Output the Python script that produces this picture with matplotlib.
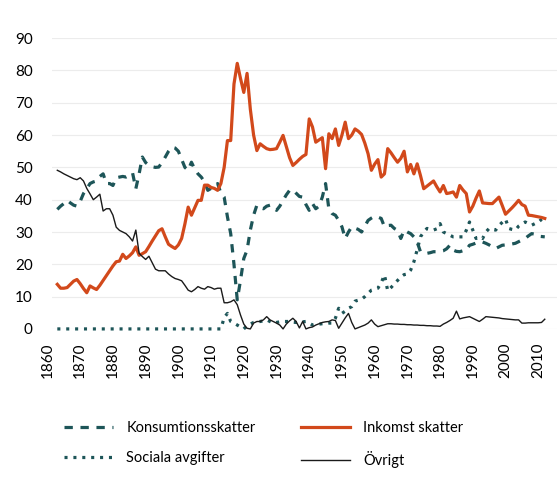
import matplotlib
matplotlib.use('Agg')
import matplotlib.pyplot as plt
import numpy as np

plt.rcParams['font.family'] = ['Lato', 'DejaVu Sans']
plt.rcParams['lines.scale_dashes'] = False

# data: share of total tax revenue (%), 1863-2012
years = list(range(1863, 2013))

inkomst = [
    13.8, 12.6, 12.6, 12.8, 13.8, 14.8, 15.3, 14.0, 12.5, 11.2,
    13.3, 12.7, 12.2, 13.5, 15.0, 16.5, 18.0, 19.5, 20.8, 21.0,
    23.1, 21.8, 22.6, 23.6, 25.4, 22.8, 23.3, 23.9, 25.5,
    27.2, 28.8, 30.4, 31.0, 28.5, 26.2, 25.5, 24.9, 26.0, 28.0,
    32.5, 37.7, 35.2, 37.5, 39.8, 39.8, 44.5, 44.5, 43.8, 43.5,
    42.9, 45.0, 50.0, 58.3, 58.3, 75.8, 82.2, 77.5, 73.2, 79.1,
    68.0, 60.0, 55.2, 57.3, 56.5, 55.8, 55.5, 55.6, 55.8, 57.8,
    59.9, 56.5, 53.0, 50.6, 51.5, 52.5, 53.4, 54.0, 65.0, 62.5,
    57.8, 58.5, 59.2, 49.6, 60.4, 58.9, 61.9, 56.8, 60.0,
    64.0, 58.9, 60.0, 61.9, 61.2, 60.2, 57.5, 54.2, 49.1, 51.0,
    52.4, 47.0, 48.0, 55.8, 54.5, 53.0, 51.6, 52.8, 55.0, 48.6,
    50.9, 48.0, 51.1, 47.5, 43.4, 44.2, 45.0, 45.8, 44.0, 42.4,
    44.4, 41.9, 42.1, 42.4, 40.8, 44.4, 43.0, 41.9, 36.2,
    38.0, 40.5, 42.7, 39.0, 38.9, 38.8, 38.8, 39.8, 40.8, 38.2,
    35.5, 36.5, 37.5, 38.6, 39.8, 38.5, 38.0, 35.2, 35.1, 34.9,
    34.7, 34.5, 34.2]

konsumtion = [
    37.0, 38.0, 38.8, 39.8, 39.0, 38.3, 38.0, 39.5, 41.9, 43.4,
    45.0, 45.5, 45.8, 47.2, 48.0, 45.0, 45.0, 44.4, 46.8, 47.0,
    47.2, 47.0, 47.5, 48.3, 43.4, 48.0, 53.2, 51.5, 50.6,
    50.2, 50.0, 50.1, 51.5, 53.2, 55.0, 56.3, 56.0, 55.0, 52.5,
    50.0, 49.1, 51.6, 49.5, 48.0, 47.0, 45.5, 42.9, 43.5, 43.9,
    45.0, 42.0, 40.8, 34.7, 29.5, 20.0, 9.0, 15.1, 21.8, 24.4,
    30.6, 35.2, 38.3, 37.5, 37.2, 38.0, 38.3, 37.7, 36.7, 38.0,
    39.8, 41.5, 42.9, 43.1, 42.0, 41.0, 40.8, 38.5, 36.7, 38.8,
    37.2, 38.0, 40.8, 45.0, 37.2, 35.7, 35.2, 33.6, 31.6,
    28.0, 30.0, 31.6, 31.2, 30.8, 30.0, 31.8, 33.6, 34.3, 34.9,
    34.6, 34.2, 31.6, 32.0, 32.1, 31.1, 30.5, 28.0, 30.6, 30.0,
    29.5, 28.5, 26.9, 23.9, 23.6, 23.4, 23.6, 23.9, 23.9, 24.0,
    24.2, 24.8, 25.9, 24.4, 24.0, 23.9, 24.2, 24.4, 25.9,
    26.2, 26.6, 26.5, 26.9, 26.5, 26.0, 25.4, 24.9, 25.4, 25.9,
    26.0, 26.1, 26.3, 26.5, 27.0, 27.5, 28.0, 28.8, 29.5, 29.3,
    28.7, 28.6, 28.5]

sociala = [
    0.0, 0.0, 0.0, 0.0, 0.0, 0.0, 0.0, 0.0, 0.0, 0.0,
    0.0, 0.0, 0.0, 0.0, 0.0, 0.0, 0.0, 0.0, 0.0, 0.0,
    0.0, 0.0, 0.0, 0.0, 0.0, 0.0, 0.0, 0.0, 0.0,
    0.0, 0.0, 0.0, 0.0, 0.0, 0.0, 0.0, 0.0, 0.0, 0.0,
    0.0, 0.0, 0.0, 0.0, 0.0, 0.0, 0.0, 0.0, 0.0, 0.0,
    0.0, 0.0, 3.5, 4.8, 2.3, 1.8, 1.2, 0.6, 0.0, 1.0,
    1.5, 2.0, 2.2, 2.3, 2.5, 2.8, 2.3, 1.8, 2.0, 2.2,
    2.3, 2.3, 2.3, 2.1, 2.0, 2.1, 2.2, 2.3, 1.8, 1.2,
    1.4, 1.5, 1.6, 1.7, 1.8, 1.8, 3.3, 6.4, 4.8,
    5.5, 6.4, 6.9, 8.6, 8.9, 9.2, 10.0, 11.0, 12.0, 12.3,
    12.6, 14.3, 16.7, 11.8, 12.8, 13.9, 15.0, 16.1, 16.8, 17.0,
    18.2, 20.8, 24.5, 28.5, 30.0, 31.1, 30.8, 30.6, 31.0, 32.6,
    30.0, 29.5, 29.0, 28.5, 28.5, 28.5, 28.5, 30.5, 33.1,
    30.6, 28.0, 28.5, 28.0, 30.0, 31.1, 30.8, 30.6, 32.0, 33.0,
    34.0, 31.1, 30.8, 30.6, 31.8, 32.5, 33.1, 32.6, 32.1, 32.6,
    33.0, 33.9, 34.2]

ovrigt = [
    49.1, 48.6, 48.0, 47.5, 47.0, 46.5, 46.2, 46.8, 45.8, 43.5,
    41.8, 40.0, 40.8, 41.7, 36.5, 37.2, 37.2, 35.2, 31.5, 30.5,
    30.0, 29.5, 28.5, 27.2, 30.6, 23.4, 22.4, 21.5, 22.5,
    20.5, 18.5, 18.0, 18.0, 18.0, 17.0, 16.2, 15.6, 15.3, 14.9,
    13.5, 12.0, 11.5, 12.2, 13.1, 12.6, 12.3, 13.1, 12.8, 12.3,
    12.6, 12.6, 8.1, 8.1, 8.4, 9.0, 7.5, 4.3, 1.5, 0.2,
    0.0, 1.8, 2.3, 2.3, 2.8, 3.8, 2.8, 2.3, 1.8, 1.2,
    0.0, 1.5, 2.5, 3.3, 2.3, 0.3, 2.3, 0.0, 0.4, 0.6,
    1.2, 1.6, 2.0, 2.2, 2.3, 2.8, 2.6, 0.2, 1.8,
    3.4, 4.8, 2.0, 0.0, 0.4, 0.8, 1.2, 1.8, 2.8, 1.5,
    0.7, 1.0, 1.3, 1.6, 1.6, 1.5, 1.5, 1.4, 1.4, 1.3,
    1.3, 1.2, 1.2, 1.1, 1.1, 1.0, 1.0, 0.9, 0.9, 0.8,
    1.5, 2.0, 2.6, 3.3, 5.5, 3.1, 3.4, 3.6, 3.8,
    3.3, 2.8, 2.3, 3.0, 3.8, 3.7, 3.6, 3.5, 3.4, 3.2,
    3.1, 3.0, 2.9, 2.8, 2.8, 1.8, 1.8, 1.9, 1.9, 1.9,
    1.9, 2.0, 3.0]

xticks = list(range(1860, 2011, 10))
yticks = list(range(0, 91, 10))
labels = ['Konsumtionsskatter', 'Sociala avgifter', 'Inkomst skatter', 'Övrigt']

teal = '#1d5558'
orange = '#d2491b'

fig = plt.figure(figsize=(5.6, 4.83), dpi=100)
ax = fig.add_axes([0.093, 0.319, 0.902, 0.602])

l1, = ax.plot(years, konsumtion, color=teal, lw=2.3, dashes=(6, 5.5), clip_on=False)
l2, = ax.plot(years, sociala, color=teal, lw=2.3, dashes=(2.2, 4.2),
              dash_capstyle='butt', clip_on=False)
l3, = ax.plot(years, inkomst, color=orange, lw=2.3, clip_on=False)
l4, = ax.plot(years, ovrigt, color='#1a1a1a', lw=1.0, clip_on=False)

ax.set_xlim(1861.4, 2015.8)
ax.set_ylim(0, 90)
# year labels (1860 sits just left of the plot area, as in the original)
ax.set_xticks([])
for t in xticks:
    ax.text(t, -0.045, str(t), transform=ax.get_xaxis_transform(),
            rotation=90, ha='center', va='top', fontsize=11, clip_on=False)
ax.set_yticks(yticks)
ax.tick_params(axis='y', labelsize=11, length=0, pad=14)
ax.grid(axis='y', color='#ececec', lw=0.8)
ax.set_axisbelow(True)
for s in ax.spines.values():
    s.set_visible(False)

fig.legend([l1, l2, l3, l4], labels,
           ncol=2, frameon=False, fontsize=10.5, handlelength=3.4,
           handletextpad=0.9, columnspacing=3.1, labelspacing=1.1,
           loc='upper left', bbox_to_anchor=(0.09, 0.155))

fig.savefig('out.png', dpi=100)
